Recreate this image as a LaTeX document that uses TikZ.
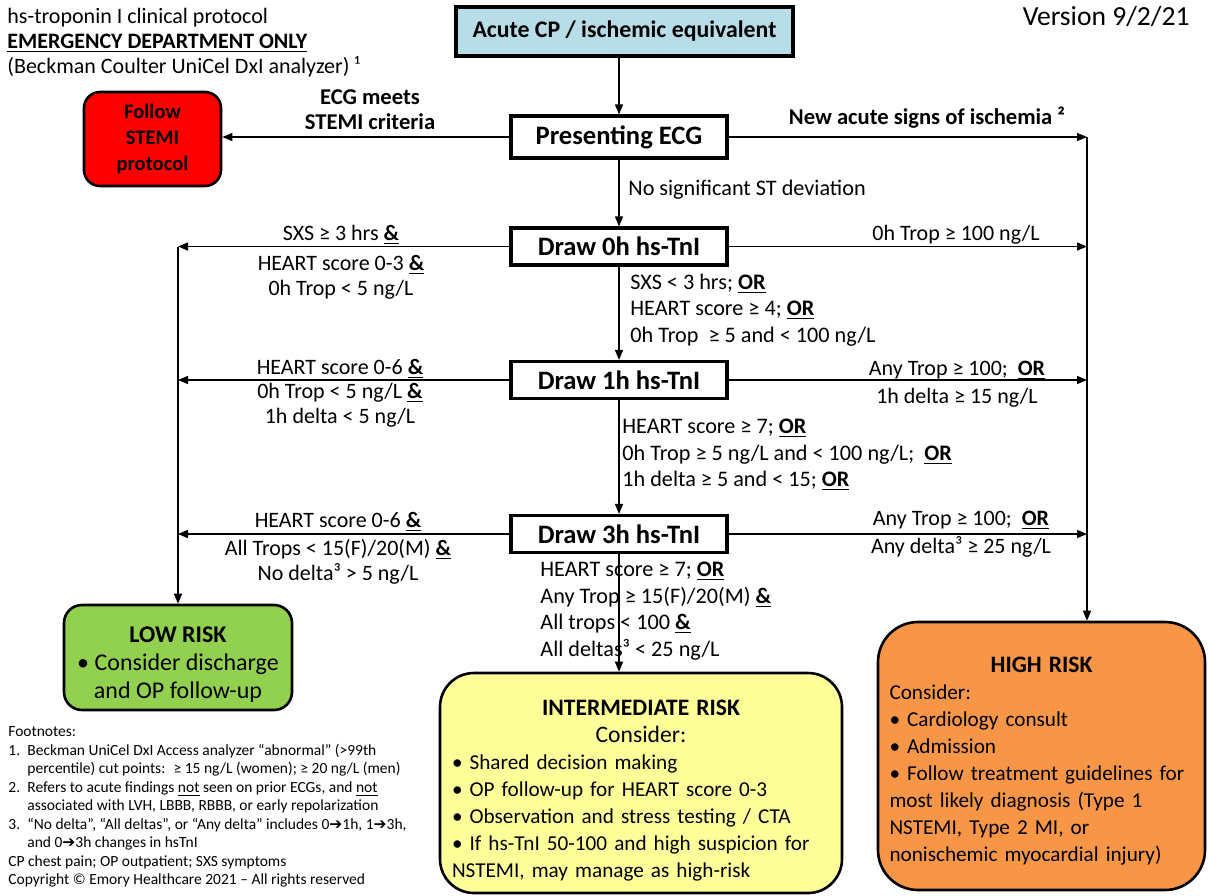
\documentclass[tikz,border=0pt]{standalone}
\usepackage{fontspec}
\setmainfont{Carlito}
\newfontfamily\dingfont{DejaVu Sans}
\definecolor{cpblue}{RGB}{183, 222, 232}
\definecolor{stemired}{RGB}{255, 0, 0}
\definecolor{lowgreen}{RGB}{146, 208, 80}
\definecolor{midyellow}{RGB}{255, 255, 153}
\definecolor{highorange}{RGB}{247, 150, 70}
\usetikzlibrary{arrows.meta, positioning}
\newcommand{\orul}{\textbf{\underline{OR}}}
\newcommand{\andul}{\textbf{\underline{\&}}}
\newcommand{\thento}{{\dingfont ➔}}
\newcommand{\fnum}[1]{\makebox[9.5pt][l]{#1}}
\newcommand{\midline}[1]{\makebox[\hsize][c]{#1}}
\newcommand{\risktitle}{\fontsize{11.8}{14}\selectfont}

\begin{document}
\begin{tikzpicture}[x=0.5pt, y=-0.5pt,
  stepbox/.style={draw, line width=1.6pt, minimum width=108pt, minimum height=18.5pt, inner sep=2pt, font=\fontsize{13.3}{15}\selectfont\bfseries},
  riskbox/.style={draw, line width=1.3pt},
  lbl/.style={font=\fontsize{11}{12.3}\selectfont, align=center, inner sep=0pt},
  boldlbl/.style={font=\fontsize{11.3}{12.5}\selectfont\bfseries, align=center, inner sep=0pt},
  midlbl/.style={font=\fontsize{11.1}{13.3}\selectfont, align=left, inner sep=0pt, anchor=west},
  arr/.style={-{Triangle[length=5pt, width=4pt]}, line width=0.7pt}]
  \useasboundingbox (0,0) rectangle (1208,895);

  \node[anchor=west, align=left, inner sep=0pt, font=\fontsize{11}{12.5}\selectfont] (hdr) at (7,43) {
    hs-troponin I clinical protocol\\
    \textbf{\underline{EMERGENCY DEPARTMENT ONLY}}\\
    (Beckman Coulter UniCel DxI analyzer) ¹};
  \node[anchor=east, inner sep=0pt, font=\fontsize{13.8}{15}\selectfont] (ver) at (1190,17) {Version 9/2/21};

  \node[stepbox, fill=cpblue, minimum width=168.5pt, minimum height=24.5pt, font=\fontsize{11.9}{13}\selectfont\bfseries] (acute) at (624.5,31.5) {Acute CP / ischemic equivalent};
  \node[stepbox, minimum height=21pt] (ecg) at (619,137) {Presenting ECG};
  \node[stepbox] (d0) at (619,246.5) {Draw 0h hs-TnI};
  \node[stepbox] (d1) at (619,380) {Draw 1h hs-TnI};
  \node[stepbox] (d3) at (619,534) {Draw 3h hs-TnI};

  \node[riskbox, fill=stemired, rounded corners=8pt, minimum width=68.5pt, minimum height=47pt, align=center, font=\fontsize{10.3}{13}\selectfont\bfseries] (stemi) at (152.5,139) {Follow\\STEMI\\protocol};

  \node[riskbox, fill=lowgreen, rounded corners=9pt, minimum width=114pt, minimum height=52.5pt, align=center, font=\fontsize{12}{14}\selectfont] (low) at (178,657.5) {
    \rule{0pt}{15pt}\textbf{LOW RISK}\\
    • Consider discharge\\
    and OP follow-up};

  \node[riskbox, fill=midyellow, rounded corners=17pt, minimum width=201pt, minimum height=110pt, text width=189pt, inner xsep=6pt, align=left, font=\fontsize{10.6}{13.5}\selectfont] (inter) at (641,783) {
    \midline{\rule{0pt}{15pt}\risktitle\bfseries INTERMEDIATE RISK}\\
    \midline{\risktitle Consider:}\\
    • Shared decision making\\
    • OP follow-up for HEART score 0-3\\
    • Observation and stress testing / CTA\\
    • If hs-TnI 50-100 and high suspicion for\\
    NSTEMI, may manage as high-risk};

  \node[riskbox, fill=highorange, rounded corners=20pt, minimum width=163.5pt, minimum height=134pt, text width=152pt, inner xsep=5.75pt, align=left, font=\fontsize{10.6}{13.5}\selectfont] (high) at (1041.5,756) {
    \midline{\rule{0pt}{13pt}\risktitle\bfseries HIGH RISK}\\
    Consider:\\
    • Cardiology consult\\
    • Admission\\
    • Follow treatment guidelines for\\
    most likely diagnosis (Type 1\\
    NSTEMI, Type 2 MI, or\\
    nonischemic myocardial injury)};

  \coordinate (rv) at (1087,137);

  \draw[arr] (acute.south -| ecg.north) -- (ecg.north);
  \draw[arr] (ecg.west) -- (ecg.west -| stemi.east);
  \draw[arr] (ecg.east) -- (ecg.east -| rv);
  \draw[arr] (rv) -- (rv |- high.north);
  \draw[arr] (ecg.south) -- (d0.north);
  \draw[arr] (d0.south) -- (d1.north);
  \draw[arr] (d1.south) -- (d3.north);
  \draw[arr] (d3.south) -- (d3.south |- inter.north);
  \foreach \s in {d0, d1, d3} {
    \draw[arr] (\s.west) -- (\s.west -| low.north);
    \draw[arr] (\s.east) -- (\s.east -| rv);
  }
  \draw[arr] (d0.west -| low.north) -- (low.north);

  \node[boldlbl] (stemilbl) at (370,110) {ECG meets\\STEMI criteria};
  \node[boldlbl] (newlbl) at (927,118) {New acute signs of ischemia ²};
  \node[midlbl] (nstlbl) at (628,190) {No significant ST deviation};

  \node[lbl] (l0) at (341,262) {SXS ≥ 3 hrs \andul\\[3pt]HEART score 0-3 \andul\\0h Trop < 5 ng/L};
  \node[lbl] (l1) at (340,393) {HEART score 0-6 \andul\\0h Trop < 5 ng/L \andul\\1h delta < 5 ng/L};
  \node[lbl] (l3) at (338,548) {HEART score 0-6 \andul\\[2pt]All Trops < 15(F)/20(M) \andul\\No delta³ > 5 ng/L};

  \node[lbl] (r0) at (956,235) {0h Trop ≥ 100 ng/L};
  \node[lbl] (r1) at (957,384) {Any Trop ≥ 100;~ \orul\\[2pt]1h delta ≥ 15 ng/L};
  \node[lbl] (r3) at (961,534) {Any Trop ≥ 100;~ \orul\\[2pt]Any delta³ ≥ 25 ng/L};

  \node[midlbl] (m0) at (630,310) {SXS < 3 hrs; \orul\\HEART score ≥ 4; \orul\\0h Trop~ ≥ 5 and < 100 ng/L};
  \node[midlbl] (m1) at (622,455) {HEART score ≥ 7; \orul\\0h Trop ≥ 5 ng/L and < 100 ng/L;~ \orul\\1h delta ≥ 5 and < 15; \orul};
  \node[midlbl] (m3) at (540,611) {HEART score ≥ 7; \orul\\Any Trop ≥ 15(F)/20(M) \andul\\All trops < 100 \andul\\All deltas³ < 25 ng/L};

  \node[anchor=west, align=left, inner sep=0pt, font=\fontsize{7.75}{9.25}\selectfont] (fnotes) at (8,807) {
    Footnotes:\\
    \fnum{1.}Beckman UniCel DxI Access analyzer “abnormal” (>99th\\
    \fnum{}percentile) cut points:~ ≥ 15 ng/L (women); ≥ 20 ng/L (men)\\
    \fnum{2.}Refers to acute findings \underline{not} seen on prior ECGs, and \underline{not}\\
    \fnum{}associated with LVH, LBBB, RBBB, or early repolarization\\
    \fnum{3.}“No delta”, “All deltas”, or “Any delta” includes 0\thento 1h, 1\thento 3h,\\
    \fnum{}and 0\thento 3h changes in hsTnI\\
    CP chest pain; OP outpatient; SXS symptoms\\
    Copyright © Emory Healthcare 2021 – All rights reserved};
\end{tikzpicture}
\end{document}
